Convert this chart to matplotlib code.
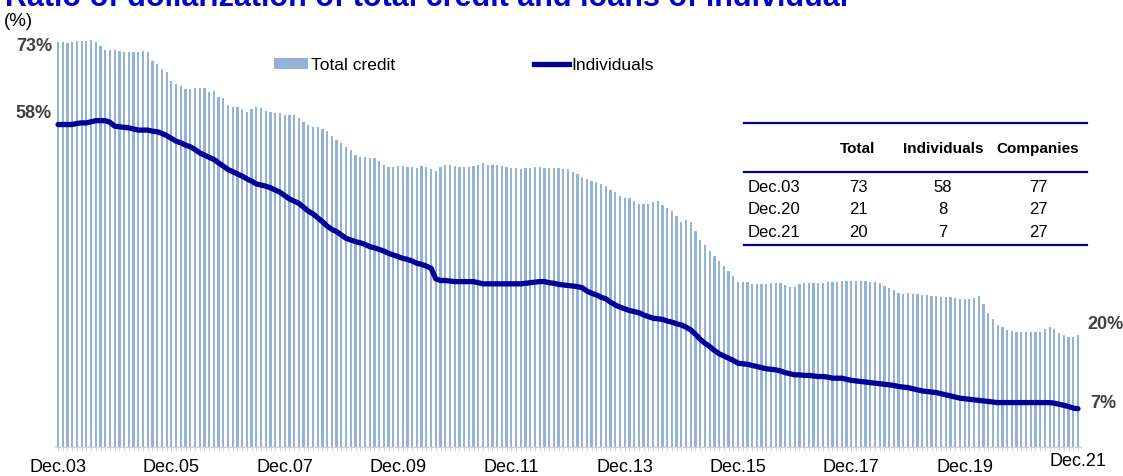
import numpy as np
import matplotlib
matplotlib.use("Agg")
import matplotlib.pyplot as plt
from matplotlib.patches import Patch
from matplotlib.lines import Line2D

# monthly data, Dec.03 .. Dec.21 (217 months)
total_credit = [
    73.0, 73.0, 72.8, 72.9, 73.1, 73.2, 73.2, 73.4, 72.9, 72.3, 71.5, 71.5, 71.5,  # Dec03-Dec04
    71.4, 71.2, 71.1, 71.2, 71.2, 71.3, 71.1, 69.6, 69.0, 68.1, 67.5, 66.0,        # 2005
    65.4, 65.0, 64.5, 64.5, 64.7, 64.7, 64.6, 63.9, 64.1, 63.1, 62.9, 61.6,        # 2006
    61.3, 61.3, 60.9, 60.3, 60.9, 61.3, 61.1, 60.6, 60.3, 60.1, 60.1, 59.8,        # 2007
    59.8, 59.8, 59.2, 58.5, 58.1, 57.7, 57.7, 57.3, 57.0, 56.1, 55.4, 54.7,        # 2008
    54.0, 53.6, 52.7, 52.2, 52.2, 52.0, 52.0, 51.6, 50.9, 50.4, 50.4, 50.6,        # 2009
    50.6, 50.4, 50.4, 50.3, 50.7, 50.5, 50.1, 49.7, 50.4, 50.9, 50.9, 50.7,        # 2010
    50.5, 50.5, 50.5, 50.6, 50.8, 51.1, 50.9, 50.9, 50.8, 50.6, 50.4, 50.2,        # 2011
    50.2, 50.0, 50.3, 50.3, 50.4, 50.4, 50.3, 50.2, 50.2, 50.2, 50.0, 50.0,        # 2012
    49.6, 49.1, 48.6, 48.2, 48.0, 47.7, 47.4, 47.0, 46.3, 45.9, 45.2, 44.9,        # 2013
    44.9, 44.3, 43.8, 43.8, 43.8, 44.1, 44.4, 43.6, 43.1, 42.5, 41.6, 40.6,        # 2014
    40.9, 40.5, 39.0, 37.3, 36.4, 35.4, 34.5, 33.5, 32.6, 31.7, 30.8, 29.8,        # 2015
    29.8, 29.8, 29.3, 29.3, 29.3, 29.3, 29.5, 29.5, 29.5, 29.2, 28.9, 28.9,        # 2016
    29.3, 29.5, 29.5, 29.5, 29.5, 29.5, 29.8, 29.8, 29.8, 29.9, 29.9, 29.9,        # 2017
    29.9, 29.9, 29.9, 29.8, 29.8, 29.5, 29.0, 28.6, 28.2, 27.8, 27.6, 27.7,        # 2018
    27.6, 27.5, 27.4, 27.4, 27.2, 27.2, 27.0, 27.1, 27.0, 26.9, 26.7, 26.6,        # 2019
    26.7, 26.9, 27.2, 25.8, 24.2, 23.0, 22.0, 21.6, 21.1, 20.9, 20.7, 20.7,        # 2020
    20.7, 20.7, 20.7, 20.8, 21.3, 21.6, 21.3, 20.5, 20.2, 19.9, 19.9, 20.1,        # 2021
]

individuals = [
    58.1, 58.1, 58.1, 58.1, 58.3, 58.4, 58.4, 58.6, 58.8, 58.8, 58.8, 58.5, 57.8,
    57.7, 57.6, 57.5, 57.3, 57.1, 57.1, 57.1, 56.9, 56.8, 56.5, 56.1, 55.6,
    55.1, 54.8, 54.4, 54.1, 53.6, 53.0, 52.6, 52.2, 51.8, 51.2, 50.6, 50.0,
    49.6, 49.2, 48.8, 48.3, 47.9, 47.4, 47.2, 47.0, 46.7, 46.3, 45.9, 45.3,
    44.7, 44.3, 43.9, 43.2, 42.5, 42.0, 41.3, 40.6, 39.8, 39.2, 38.8, 38.2,
    37.6, 37.3, 37.0, 36.8, 36.5, 36.1, 35.9, 35.6, 35.3, 34.9, 34.6, 34.3,
    34.0, 33.8, 33.5, 33.1, 32.9, 32.6, 32.2, 30.3, 30.0, 30.0, 29.9, 29.8,
    29.8, 29.8, 29.8, 29.8, 29.6, 29.4, 29.4, 29.4, 29.4, 29.4, 29.4, 29.4,
    29.4, 29.4, 29.5, 29.6, 29.7, 29.8, 29.8, 29.6, 29.5, 29.3, 29.2, 29.1,
    29.0, 28.9, 28.7, 28.1, 27.7, 27.4, 27.0, 26.7, 26.1, 25.6, 25.2, 24.9,
    24.6, 24.4, 24.2, 23.8, 23.5, 23.2, 23.1, 23.0, 22.7, 22.5, 22.2, 22.0,
    21.6, 21.1, 20.3, 19.4, 18.7, 18.1, 17.4, 16.8, 16.4, 16.0, 15.6, 15.1,
    15.0, 14.9, 14.7, 14.5, 14.3, 14.1, 14.0, 13.9, 13.7, 13.4, 13.2, 13.0,
    13.0, 12.9, 12.9, 12.8, 12.7, 12.7, 12.6, 12.4, 12.4, 12.4, 12.2, 12.0,
    11.9, 11.8, 11.7, 11.6, 11.5, 11.4, 11.3, 11.2, 11.1, 10.9, 10.8, 10.7,
    10.5, 10.3, 10.1, 10.0, 9.9, 9.8, 9.6, 9.4, 9.2, 9.0, 8.8, 8.7,
    8.6, 8.5, 8.4, 8.3, 8.2, 8.1, 8.0, 8.0, 8.0, 8.0, 8.0, 8.0,
    8.0, 8.0, 8.0, 8.0, 8.0, 8.0, 7.9, 7.7, 7.5, 7.3, 7.0, 6.9,
]

tick_labels = ["Dec.03", "Dec.05", "Dec.07", "Dec.09", "Dec.11",
               "Dec.13", "Dec.15", "Dec.17", "Dec.19"]

table_cols = ["Total", "Individuals", "Companies"]
table_rows = ["Dec.03", "Dec.20", "Dec.21"]
table_total = [73, 21, 20]
table_indiv = [58, 8, 7]
table_comp = [77, 27, 27]

BAR = "#95B3D7"
NAVY = "#000099"
GREY = "#404040"

plt.rcParams["font.family"] = ["Liberation Sans", "DejaVu Sans"]

W, H = 1123, 477
fig = plt.figure(figsize=(W / 100, H / 100), dpi=100)


def fx(px):
    return px / W


def fy(py):
    return 1 - py / H


ax = fig.add_axes([fx(55.2), fy(448), fx(1080.8) - fx(55.2), fy(31.75) - fy(448)])

x = np.arange(len(total_credit))
ax.bar(x, total_credit, width=0.48, color=BAR, linewidth=0)
ax.plot(x, individuals, color=NAVY, linewidth=3.8, solid_capstyle="round")

ax.set_xlim(-0.6, len(x) - 0.4)
ax.set_ylim(0, 75)
ax.set_yticks([])
for s in ["top", "right", "left"]:
    ax.spines[s].set_visible(False)
ax.spines["bottom"].set_color("#D0D0D0")
ax.spines["bottom"].set_linewidth(1.0)

ax.set_xticks(np.arange(0, 193, 24))
ax.set_xticklabels(tick_labels, fontsize=13)
ax.set_xticks(x, minor=True)
ax.tick_params(axis="x", which="both", length=3, color="#D0D0D0", direction="out")
ax.tick_params(axis="x", which="major", pad=5)
ax.text(x[-1], -2.5, "Dec.21", fontsize=13, ha="center", va="center")

# end-point labels
ax.annotate("73%", (x[0], total_credit[0]), xytext=(-6, -4), textcoords="offset pixels",
            ha="right", va="center", fontsize=13, fontweight="bold", color=GREY)
ax.annotate("58%", (x[0], individuals[0]), xytext=(-6, 12), textcoords="offset pixels",
            ha="right", va="center", fontsize=13, fontweight="bold", color=GREY)
ax.annotate("20%", (x[-1], total_credit[-1]), xytext=(9, 12), textcoords="offset pixels",
            ha="left", va="center", fontsize=13, fontweight="bold", color=GREY)
ax.annotate("7%", (x[-1], individuals[-1]), xytext=(12, 6), textcoords="offset pixels",
            ha="left", va="center", fontsize=13, fontweight="bold", color=GREY)

# legend
handles = [Patch(facecolor=BAR, edgecolor="none"),
           Line2D([0], [0], color=NAVY, linewidth=3.8)]
fig.legend(handles, ["Total credit", "Individuals"], ncol=2, frameon=False,
           fontsize=12.5, loc="center left", bbox_to_anchor=(fx(258), fy(66)),
           handlelength=2.0, handleheight=0.55, handletextpad=0.15,
           columnspacing=8.0)

# title (clipped at top, as in the source image) and unit
fig.text(fx(5), fy(6), "Ratio of dollarization of total credit and loans of individual",
         fontsize=22, fontweight="bold", color="#0000CC", ha="left", va="baseline")
fig.text(fx(4), fy(21), "(%)", fontsize=13.5, ha="left", va="center")

# inset table
x0, x1 = 744, 1087
fig.add_artist(Line2D([fx(x0), fx(x1)], [fy(124), fy(124)], color=NAVY, linewidth=1.6))
fig.add_artist(Line2D([fx(x0), fx(x1)], [fy(173), fy(173)], color=NAVY, linewidth=1.6))
fig.add_artist(Line2D([fx(x0), fx(x1)], [fy(246), fy(246)], color=NAVY, linewidth=1.6))
col_x = [858, 943, 1038]
for cx, name in zip(col_x, table_cols):
    fig.text(fx(cx), fy(149), name, fontsize=11, fontweight="bold", ha="center", va="center")
row_y = [187, 210, 233]
for ry, lab, t, i, c in zip(row_y, table_rows, table_total, table_indiv, table_comp):
    fig.text(fx(748), fy(ry), lab, fontsize=12, ha="left", va="center")
    for cx, v in zip(col_x, (t, i, c)):
        fig.text(fx(cx), fy(ry), str(v), fontsize=12, ha="center", va="center")

fig.savefig("out.png", dpi=100)
